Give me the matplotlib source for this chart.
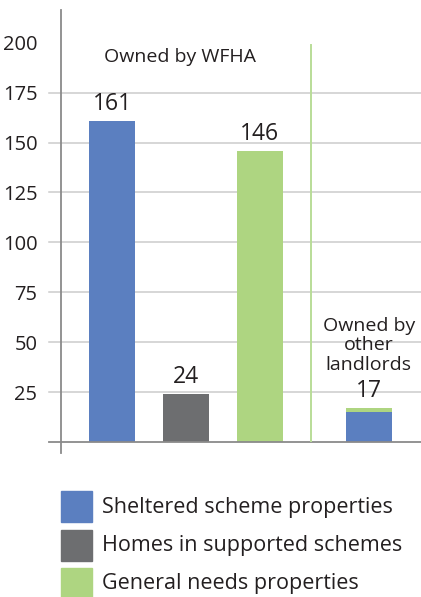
import matplotlib
matplotlib.use("Agg")
import matplotlib.pyplot as plt
from matplotlib.patches import Rectangle

# Property counts
categories = ["Sheltered scheme properties", "Homes in supported schemes", "General needs properties"]
wfha_values = [161, 24, 146]
other_sheltered = 15
other_general = 2
other_total = 17
yticks = [25, 50, 75, 100, 125, 150, 175, 200]

colors = ["#5b7fc0", "#6d6e70", "#aed581"]
text_color = "#231f20"
plt.rcParams["font.family"] = ["Open Sans", "DejaVu Sans"]

W, H = 421, 597
fig = plt.figure(figsize=(W / 100, H / 100), dpi=100)
ax = fig.add_axes([61 / W, 155 / H, 360 / W, 432 / H])

pos = [0, 1, 2]
other_pos = 3.47
bw = 0.62
ax.set_xlim(-0.689, 4.176)
ax.set_ylim(0, 216.4)

ax.bar(pos, wfha_values, width=bw, color=colors, zorder=2)
ax.bar([other_pos], [other_sheltered], width=bw, color=colors[0], zorder=2)
ax.bar([other_pos], [other_general], bottom=[other_sheltered], width=bw, color=colors[2], zorder=2)

for x, v in zip(pos, wfha_values):
    ax.text(x, v + 2.5, str(v), ha="center", va="bottom", fontsize=16.5, color=text_color)
ax.text(other_pos, other_total + 2.5, str(other_total), ha="center", va="bottom", fontsize=16.5, color=text_color)

# gridlines with short stubs left of the axis
for t in yticks[:-1]:
    ax.plot([-0.85, 4.2], [t, t], color="#cbcbcb", lw=1.1, zorder=1, clip_on=False)
ax.plot([-0.85, 4.2], [0, 0], color="#8a8a8a", lw=1.3, zorder=3, clip_on=False)

# divider between the two owner groups
ax.plot([2.69, 2.69], [0, 199], color="#b9dd98", lw=1.4, zorder=3)

ax.set_yticks(yticks)
ax.set_yticklabels([str(t) for t in yticks])
ax.tick_params(axis="y", length=0, pad=17, labelsize=14.5, labelcolor=text_color)
ax.set_xticks([])
for s in ["top", "right", "bottom"]:
    ax.spines[s].set_visible(False)
ax.spines["left"].set_color("#8a8a8a")
ax.spines["left"].set_linewidth(1.3)
ax.spines["left"].set_bounds(-5.5, 216.4)
ax.spines["left"].set_zorder(3)

ax.text(0.92, 193, "Owned by WFHA", ha="center", va="center", fontsize=14, color=text_color)
ax.text(other_pos, 48.5, "Owned by\nother\nlandlords", ha="center", va="center", fontsize=14,
        color=text_color, linespacing=1.1)

# legend
legend_tops = [491, 530, 568]
for top, c, lab in zip(legend_tops, colors, categories):
    fig.add_artist(Rectangle((61 / W, 1 - (top + 31) / H), 31 / W, 31 / H,
                             transform=fig.transFigure, color=c))
    fig.text(102 / W, 1 - (top + 16) / H, lab, ha="left", va="center", fontsize=15.5, color=text_color)

fig.savefig("out.png", dpi=100)
